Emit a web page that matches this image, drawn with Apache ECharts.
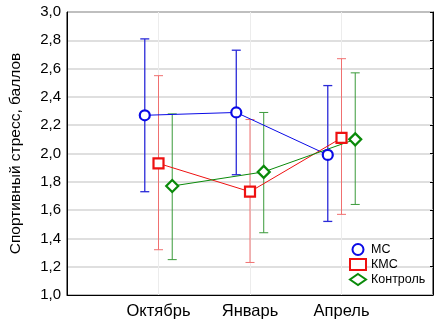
<!DOCTYPE html>
<html>
<head>
<meta charset="utf-8">
<script src="https://cdn.jsdelivr.net/npm/echarts@6/dist/echarts.min.js"></script>
<style>
  html, body { margin: 0; padding: 0; background: #fff; }
  #main { width: 441px; height: 325px; }
</style>
</head>
<body>
<div id="main"></div>
<script>
const categories = ['Октябрь', 'Январь', 'Апрель']
const groupNames = ['МС', 'КМС', 'Контроль']

const msMean = [2.27, 2.29, 1.99]
const msHigh = [2.81, 2.73, 2.48]
const msLow = [1.73, 1.85, 1.52]

const kmsMean = [1.93, 1.73, 2.11]
const kmsHigh = [2.55, 2.24, 2.67]
const kmsLow = [1.32, 1.23, 1.57]

const ctrlMean = [1.77, 1.87, 2.10]
const ctrlHigh = [2.28, 2.29, 2.57]
const ctrlLow = [1.25, 1.44, 1.64]

const font = 'Liberation Sans, Arial, sans-serif'
const comma = v => v.toFixed(1).replace('.', ',')

// each group drawn a bit left / right of the category position
function points (mean, shift) {
  return mean.map((v, i) => [i + 1 + shift, v])
}
function bars (low, high, shift) {
  return low.map((v, i) => [i + 1 + shift, v, high[i]])
}

function errorBar (color, width) {
  return function (params, api) {
    const x = api.value(0)
    const lo = api.coord([x, api.value(1)])
    const hi = api.coord([x, api.value(2)])
    const c = 4.5
    const style = { stroke: color, lineWidth: width }
    return {
      type: 'group',
      children: [
        { type: 'line', shape: { x1: lo[0], y1: lo[1], x2: hi[0], y2: hi[1] }, style: style },
        { type: 'line', shape: { x1: lo[0] - c, y1: lo[1], x2: lo[0] + c, y2: lo[1] }, style: style },
        { type: 'line', shape: { x1: hi[0] - c, y1: hi[1], x2: hi[0] + c, y2: hi[1] }, style: style }
      ]
    }
  }
}

const groups = [
  { name: groupNames[0], mean: msMean, low: msLow, high: msHigh, shift: -0.15, color: '#0a0ae6', barColor: '#2a2ad8', barWidth: 1.3, symbol: 'circle', size: 10 },
  { name: groupNames[1], mean: kmsMean, low: kmsLow, high: kmsHigh, shift: 0, color: '#ee1111', barColor: '#f07070', barWidth: 1, symbol: 'rect', size: 10 },
  { name: groupNames[2], mean: ctrlMean, low: ctrlLow, high: ctrlHigh, shift: 0.15, color: '#0a8a0a', barColor: '#3a9a3a', barWidth: 1, symbol: 'diamond', size: 12 }
]

const series = []
groups.forEach(g => {
  series.push({
    type: 'custom',
    name: g.name + ' err',
    renderItem: errorBar(g.barColor, g.barWidth),
    data: bars(g.low, g.high, g.shift),
    encode: { x: 0, y: [1, 2] },
    silent: true,
    z: 2
  })
})
groups.forEach(g => {
  series.push({
    type: 'line',
    name: g.name,
    data: points(g.mean, g.shift),
    symbol: g.symbol,
    symbolSize: g.size,
    showSymbol: true,
    lineStyle: { color: g.color, width: 1 },
    itemStyle: { color: '#fff', borderColor: g.color, borderWidth: 2.2 },
    z: 3
  })
})

const chart = echarts.init(document.getElementById('main'))
chart.setOption({
  animation: false,
  textStyle: { fontFamily: font },
  grid: { left: 60, right: 8, top: 12, bottom: 30, show: true, borderColor: '#000', borderWidth: 1 },
  legend: {
    data: groupNames.map(n => ({ name: n, icon: n === 'МС' ? 'circle' : (n === 'КМС' ? 'rect' : 'diamond') })),
    orient: 'vertical',
    left: 344,
    top: 238,
    itemWidth: 16,
    itemHeight: 11,
    itemGap: 2,
    textStyle: { fontFamily: font, fontSize: 12.5, color: '#000' }
  },
  xAxis: {
    type: 'value',
    min: 0,
    max: 4,
    interval: 1,
    axisLine: { show: true, lineStyle: { color: '#000' } },
    axisTick: { show: false },
    axisLabel: {
      fontSize: 16.5,
      color: '#000',
      margin: 8,
      formatter: v => categories[v - 1] || ''
    },
    splitLine: { show: true, lineStyle: { color: '#ececec', width: 1 } }
  },
  yAxis: [
    {
      type: 'value',
      min: 1,
      max: 3,
      interval: 0.2,
      name: 'Спортивный стресс, баллов',
      nameLocation: 'middle',
      nameGap: 43,
      nameTextStyle: { fontSize: 15.5, color: '#000', fontFamily: font },
      axisLine: { show: true, lineStyle: { color: '#000' } },
      axisTick: { show: false },
      axisLabel: { fontSize: 15, color: '#000', margin: 6, formatter: comma },
      splitLine: { show: true, lineStyle: { color: '#d4d4d4', width: 1.5 } }
    },
    {
      type: 'value',
      position: 'right',
      min: 1,
      max: 3,
      interval: 0.2,
      axisLine: { show: true, lineStyle: { color: '#000' } },
      axisTick: { show: true, inside: true, length: 3, lineStyle: { color: '#000' } },
      axisLabel: { show: false },
      splitLine: { show: false }
    }
  ],
  series: series
})
</script>
</body>
</html>
